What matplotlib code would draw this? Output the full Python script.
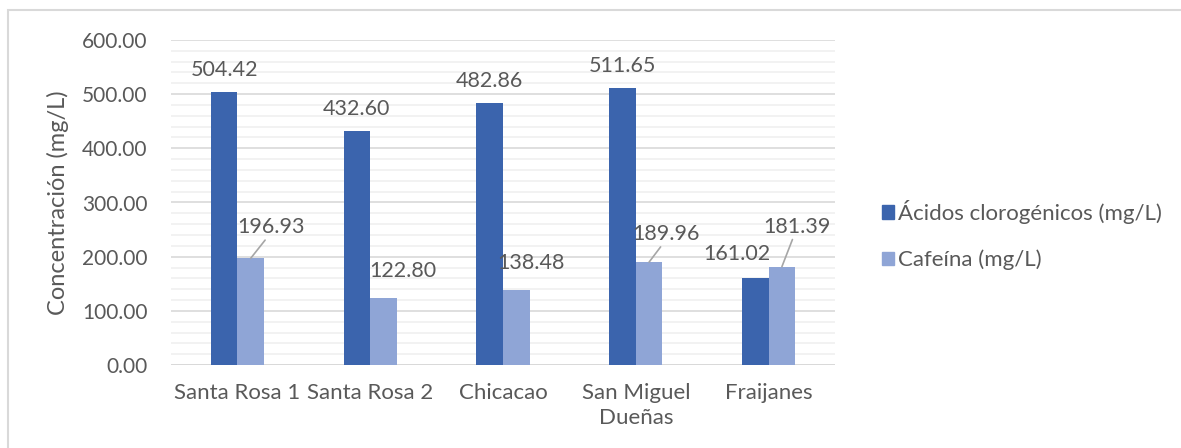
import matplotlib
matplotlib.use("Agg")
import matplotlib.pyplot as plt
from matplotlib.patches import Rectangle, Patch
from matplotlib.ticker import MultipleLocator, FormatStrFormatter
import numpy as np

plt.rcParams['font.family'] = ['Lato', 'DejaVu Sans']

categories = ["Santa Rosa 1", "Santa Rosa 2", "Chicacao", "San Miguel\nDueñas", "Fraijanes"]
acidos = [504.42, 432.60, 482.86, 511.65, 161.02]
cafeina = [196.93, 122.80, 138.48, 189.96, 181.39]
series_names = ["Ácidos clorogénicos (mg/L)", "Cafeína (mg/L)"]

TEXT = "#595959"
DARK = "#3B64AD"
LIGHT = "#8FA5D6"

fig = plt.figure(figsize=(11.81, 4.48), dpi=100)
ax = fig.add_axes([171 / 1181, 1 - 365 / 448, (835 - 171) / 1181, (365 - 40) / 448])

x = np.arange(len(categories))
w = 0.2
ax.bar(x - w / 2, acidos, width=w, color=DARK, zorder=3)
ax.bar(x + w / 2, cafeina, width=w, color=LIGHT, zorder=3)

ax.set_xlim(-0.5, len(categories) - 0.5)
ax.set_ylim(0, 600)
ax.yaxis.set_major_locator(MultipleLocator(100))
ax.yaxis.set_minor_locator(MultipleLocator(20))
ax.yaxis.set_major_formatter(FormatStrFormatter('%.2f'))
ax.grid(axis='y', which='major', color='#d9d9d9', lw=1.2, zorder=0)
ax.grid(axis='y', which='minor', color='#f0f0f0', lw=1.2, zorder=0)
for s in ax.spines.values():
    s.set_visible(False)
ax.axhline(0, color='#d9d9d9', lw=1.4, zorder=2)
ax.tick_params(axis='both', which='both', length=0, labelcolor=TEXT)
ax.tick_params(axis='y', labelsize=15, pad=17)
ax.tick_params(axis='x', labelsize=16, pad=13)
ax.set_xticks(x)
ax.set_xticklabels(categories, linespacing=1.3, va='top')
ax.set_ylabel("Concentración (mg/L)", fontsize=17, color=TEXT, labelpad=9)

# value labels for the dark series
dark_offsets = [(0, 12), (0, 12), (0, 12), (0, 12), (-18, 14)]
for xi, v, off in zip(x - w / 2, acidos, dark_offsets):
    ax.annotate(f"{v:.2f}", (xi, v), xytext=off, textcoords='offset pixels',
                ha='center', va='bottom', fontsize=15.5, color=TEXT)

# value labels for the light series; some are pulled away with a leader line
light_offsets = [(20, 21), (19, 17), (15, 17), (17, 18), (15, 30)]
leaders = [True, False, False, True, True]
for xi, v, off, lead in zip(x + w / 2, cafeina, light_offsets, leaders):
    kw = {}
    if lead:
        kw['arrowprops'] = dict(arrowstyle='-', color='#a6a6a6', lw=1.2,
                                shrinkA=0, shrinkB=0, relpos=(0.45, 0.0))
    ax.annotate(f"{v:.2f}", (xi, v), xytext=off, textcoords='offset pixels',
                ha='center', va='bottom', fontsize=15.5, color=TEXT, **kw)

handles = [Patch(color=DARK), Patch(color=LIGHT)]
fig.legend(handles, series_names, loc='center left',
           bbox_to_anchor=(866 / 1181, 1 - 235 / 448), frameon=False,
           fontsize=16, labelcolor=TEXT, handlelength=0.55, handleheight=0.55,
           handletextpad=0.2, labelspacing=1.15, borderpad=0.2)

# chart frame
fig.patches.append(Rectangle((8 / 1181, -0.1), 1.2, 1 - 10 / 448 + 0.1,
                             transform=fig.transFigure, fill=False,
                             edgecolor='#d9d9d9', lw=1.5))

fig.savefig("out.png", dpi=100)
